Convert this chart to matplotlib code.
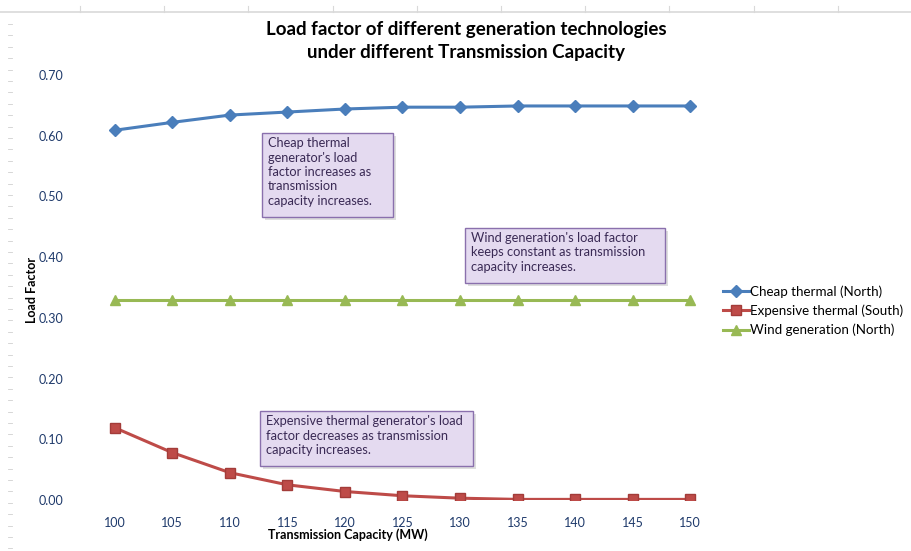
import numpy as np
import matplotlib.pyplot as plt
from matplotlib.patches import Rectangle
from matplotlib.lines import Line2D

plt.rcParams['font.family'] = ['Lato', 'DejaVu Sans']

capacity = [100, 105, 110, 115, 120, 125, 130, 135, 140, 145, 150]
cheap_north = [0.609, 0.622, 0.634, 0.639, 0.644, 0.647, 0.647, 0.649, 0.649, 0.649, 0.649]
expensive_south = [0.119, 0.078, 0.045, 0.025, 0.014, 0.007, 0.003, 0.001, 0.001, 0.001, 0.001]
wind_north = [0.33] * 11
series_names = ['Cheap thermal (North)', 'Expensive thermal (South)', 'Wind generation (North)']
y_ticks = [0.0, 0.1, 0.2, 0.3, 0.4, 0.5, 0.6, 0.7]

W, H = 912, 551
fig = plt.figure(figsize=(W / 100, H / 100), dpi=100)

def fx(px):
    return px / W

def fy(py):
    return 1 - py / H

# spreadsheet artifacts behind the chart
fig.add_artist(Line2D([0, 1], [fy(12), fy(12)], color='#d9d9d9', lw=1.2))
for px in np.arange(80, 912, 84.2):
    fig.add_artist(Line2D([fx(px), fx(px)], [fy(12), fy(6)], color='#d9d9d9', lw=0.8))
for py in np.arange(24, 551, 11.4):
    fig.add_artist(Line2D([fx(8), fx(12)], [fy(py), fy(py)], color='#d0d0d0', lw=0.6))

ax = fig.add_axes([fx(86), fy(500), fx(719) - fx(86), fy(75) - fy(500)])
x = np.arange(len(capacity))

c_blue, c_red, c_green = '#4a7ebb', '#be4b48', '#98b954'
ax.plot(x, cheap_north, color=c_blue, lw=2.2, marker='D', ms=6.5, mec=c_blue, label=series_names[0])
ax.plot(x, expensive_south, color=c_red, lw=2.2, marker='s', ms=7.5, mec='#a33c39', label=series_names[1])
ax.plot(x, wind_north, color=c_green, lw=2.2, marker='^', ms=7.5, mec=c_green, label=series_names[2])

ax.set_xlim(-0.5, len(capacity) - 0.5)
ax.set_ylim(0, 0.70)
ax.set_xticks(x)
ax.set_xticklabels([str(c) for c in capacity], fontsize=9, color='#1f3a6b')
ax.set_yticks(y_ticks)
ax.set_yticklabels(['%.2f' % v for v in y_ticks], fontsize=9, color='#1f3a6b')
ax.tick_params(length=0)
ax.tick_params(axis='y', pad=16)
ax.tick_params(axis='x', pad=12)
for s in ax.spines.values():
    s.set_visible(False)

fig.text(fx(348), fy(535), 'Transmission Capacity (MW)', fontsize=9, fontweight='bold',
         ha='center', va='center')
fig.text(fx(32), fy(290), 'Load Factor', rotation=90, fontsize=9, fontweight='bold',
         ha='center', va='center')

fig.text(fx(466), fy(30), 'Load factor of different generation technologies',
         fontsize=13.5, fontweight='bold', ha='center', va='center')
fig.text(fx(466), fy(53), 'under different Transmission Capacity',
         fontsize=13.5, fontweight='bold', ha='center', va='center')

fig.legend(loc='upper left', bbox_to_anchor=(fx(718), fy(280)), frameon=False,
           fontsize=9.6, handlelength=1.9, handletextpad=0.12, labelspacing=0.5,
           borderaxespad=0)

def note(x0, y0, x1, y1, text, size):
    fig.add_artist(Rectangle((fx(x0 + 3), fy(y1 + 3)), fx(x1 - x0), fy(y0) - fy(y1),
                             facecolor='#c8c8c8', edgecolor='none', alpha=0.6))
    fig.add_artist(Rectangle((fx(x0), fy(y1)), fx(x1 - x0), fy(y0) - fy(y1),
                             facecolor='#e4daf0', edgecolor='#8a70ad', lw=1.0))
    fig.text(fx(x0 + 6), fy(y0 + 4), text, fontsize=size, color='#3a2a55',
             ha='left', va='top', linespacing=1.25)

note(262, 133, 393, 217, "Cheap thermal\ngenerator's load\nfactor increases as\ntransmission\ncapacity increases.", 9.2)
note(465, 228, 665, 283, "Wind generation's load factor\nkeeps constant as transmission\ncapacity increases.", 9.3)
note(260, 411, 473, 466, "Expensive thermal generator's load\nfactor decreases as transmission\ncapacity increases.", 9.3)

fig.savefig('out.png', dpi=100)
